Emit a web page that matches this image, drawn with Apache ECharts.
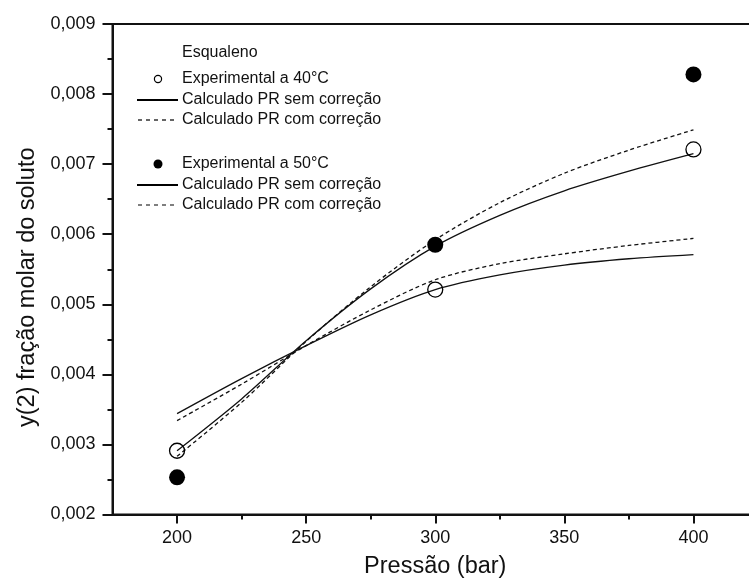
<!DOCTYPE html>
<html>
<head>
<meta charset="utf-8">
<script src="https://cdn.jsdelivr.net/npm/echarts@6/dist/echarts.min.js"></script>
<style>
  html, body { margin: 0; padding: 0; background: #fff; }
  #chart { width: 749px; height: 586px; }
</style>
</head>
<body>
<div id="chart"></div>
<script>
// Experimental solubility of squalene (mole fraction) vs pressure
const expPressures = [200, 300, 400];
const exp40 = [0.00291, 0.00521, 0.00721];
const exp50 = [0.00253, 0.00585, 0.00828];

// Peng-Robinson curves, sampled every 25 bar
const calcPressures = [200, 225, 250, 275, 300, 325, 350, 375, 400];
const pr40Sem = [0.00344, 0.00394, 0.00441, 0.00485, 0.00521, 0.00542, 0.00556, 0.00565, 0.00571];
const pr40Com = [0.00334, 0.00386, 0.00441, 0.00492, 0.00535, 0.00558, 0.00572, 0.00584, 0.00594];
const pr50Sem = [0.00291, 0.00365, 0.00448, 0.00522, 0.00583, 0.00627, 0.00662, 0.00690, 0.00715];
const pr50Com = [0.00283, 0.00360, 0.00447, 0.00525, 0.00592, 0.00645, 0.00687, 0.00720, 0.00749];

// Axis ticks
const xMajorTicks = [200, 250, 300, 350, 400];
const xMinorTicks = [225, 275, 325, 375];

const FONT = 'Liberation Sans, Arial, sans-serif';
const INK = '#111';
const MARK = '#000';

const pairs = (xs, ys) => xs.map((x, i) => [x, ys[i]]);

const lineSeries = (name, xs, ys, dashed) => ({
  name,
  type: 'line',
  data: pairs(xs, ys),
  smooth: 0.3,
  showSymbol: false,
  symbol: 'none',
  silent: true,
  z: 2,
  lineStyle: { color: INK, width: 1.3, type: dashed ? [4, 3] : 'solid' }
});

// Legend block drawn as graphics
const legendX = 182;
const legendRows = [
  { y: 53, text: 'Esqualeno' },
  { y: 79, text: 'Experimental a 40°C', mark: 'open' },
  { y: 100, text: 'Calculado PR sem correção', mark: 'solid' },
  { y: 120, text: 'Calculado PR com correção', mark: 'dash' },
  { y: 164, text: 'Experimental a 50°C', mark: 'filled' },
  { y: 185, text: 'Calculado PR sem correção', mark: 'solid' },
  { y: 205, text: 'Calculado PR com correção', mark: 'dash' }
];
const legendGraphics = [];
legendRows.forEach(r => {
  legendGraphics.push({
    type: 'text', x: legendX, y: r.y,
    style: { text: r.text, font: '16px ' + FONT, fill: INK, verticalAlign: 'middle' }
  });
  if (r.mark === 'open') {
    legendGraphics.push({ type: 'circle', shape: { cx: 158, cy: r.y, r: 3.6 },
      style: { fill: 'transparent', stroke: MARK, lineWidth: 1.2 } });
  } else if (r.mark === 'filled') {
    legendGraphics.push({ type: 'circle', shape: { cx: 158, cy: r.y, r: 4.5 },
      style: { fill: MARK } });
  } else if (r.mark === 'solid') {
    legendGraphics.push({ type: 'line', shape: { x1: 137, y1: r.y, x2: 178, y2: r.y },
      style: { stroke: MARK, lineWidth: 2 } });
  } else if (r.mark === 'dash') {
    legendGraphics.push({ type: 'line', shape: { x1: 138, y1: r.y, x2: 174, y2: r.y },
      style: { stroke: MARK, lineWidth: 1.2, lineDash: [4, 4] } });
  }
});

const chart = echarts.init(document.getElementById('chart'), null, { renderer: 'canvas' });

chart.setOption({
  backgroundColor: '#fff',
  animation: false,
  grid: {
    left: 112.5, top: 24, right: -9, bottom: 71.5,
    containLabel: false, outerBoundsMode: 'none',
    show: true, borderColor: INK, borderWidth: 2, backgroundColor: 'transparent'
  },
  xAxis: [
    {
      type: 'value', min: 175, max: 425,
      name: 'Pressão (bar)', nameLocation: 'middle', nameGap: 40,
      nameTextStyle: { fontFamily: FONT, fontSize: 23.5, color: INK },
      axisLine: { show: true, onZero: false, lineStyle: { color: INK, width: 2 } },
      axisTick: { show: true, inside: false, length: 9, lineStyle: { color: INK, width: 2 },
        customValues: xMajorTicks },
      axisLabel: { show: true, margin: 15, fontFamily: FONT, fontSize: 18, color: INK,
        customValues: xMajorTicks },
      splitLine: { show: false }
    },
    {
      type: 'value', min: 175, max: 425, position: 'bottom',
      axisLine: { show: false },
      axisTick: { show: true, inside: false, length: 5, lineStyle: { color: INK, width: 2 },
        customValues: xMinorTicks },
      axisLabel: { show: false },
      splitLine: { show: false }
    }
  ],
  yAxis: {
    type: 'value', min: 0.002, max: 0.009, interval: 0.001,
    name: 'y(2) fração molar do soluto', nameLocation: 'middle', nameGap: 72,
    nameTextStyle: { fontFamily: FONT, fontSize: 23.5, color: INK, padding: [0, 36, 0, 0] },
    axisLine: { show: true, onZero: false, lineStyle: { color: INK, width: 2 } },
    axisTick: { show: true, inside: false, length: 10, lineStyle: { color: INK, width: 2 } },
    minorTick: { show: true, splitNumber: 2, length: 5, lineStyle: { color: INK, width: 2 } },
    axisLabel: { margin: 17, fontFamily: FONT, fontSize: 18, color: INK,
      formatter: v => v.toFixed(3).replace('.', ',') },
    splitLine: { show: false },
    minorSplitLine: { show: false }
  },
  series: [
    lineSeries('Calculado PR sem correção (40°C)', calcPressures, pr40Sem, false),
    lineSeries('Calculado PR com correção (40°C)', calcPressures, pr40Com, true),
    lineSeries('Calculado PR sem correção (50°C)', calcPressures, pr50Sem, false),
    lineSeries('Calculado PR com correção (50°C)', calcPressures, pr50Com, true),
    {
      name: 'Experimental a 40°C', type: 'scatter', z: 5,
      data: pairs(expPressures, exp40),
      symbol: 'circle', symbolSize: 15,
      itemStyle: { color: 'transparent', borderColor: MARK, borderWidth: 1.3, opacity: 1 }
    },
    {
      name: 'Experimental a 50°C', type: 'scatter', z: 5,
      data: pairs(expPressures, exp50),
      symbol: 'circle', symbolSize: 16,
      itemStyle: { color: MARK, opacity: 1 }
    }
  ],
  graphic: legendGraphics
});
</script>
</body>
</html>
